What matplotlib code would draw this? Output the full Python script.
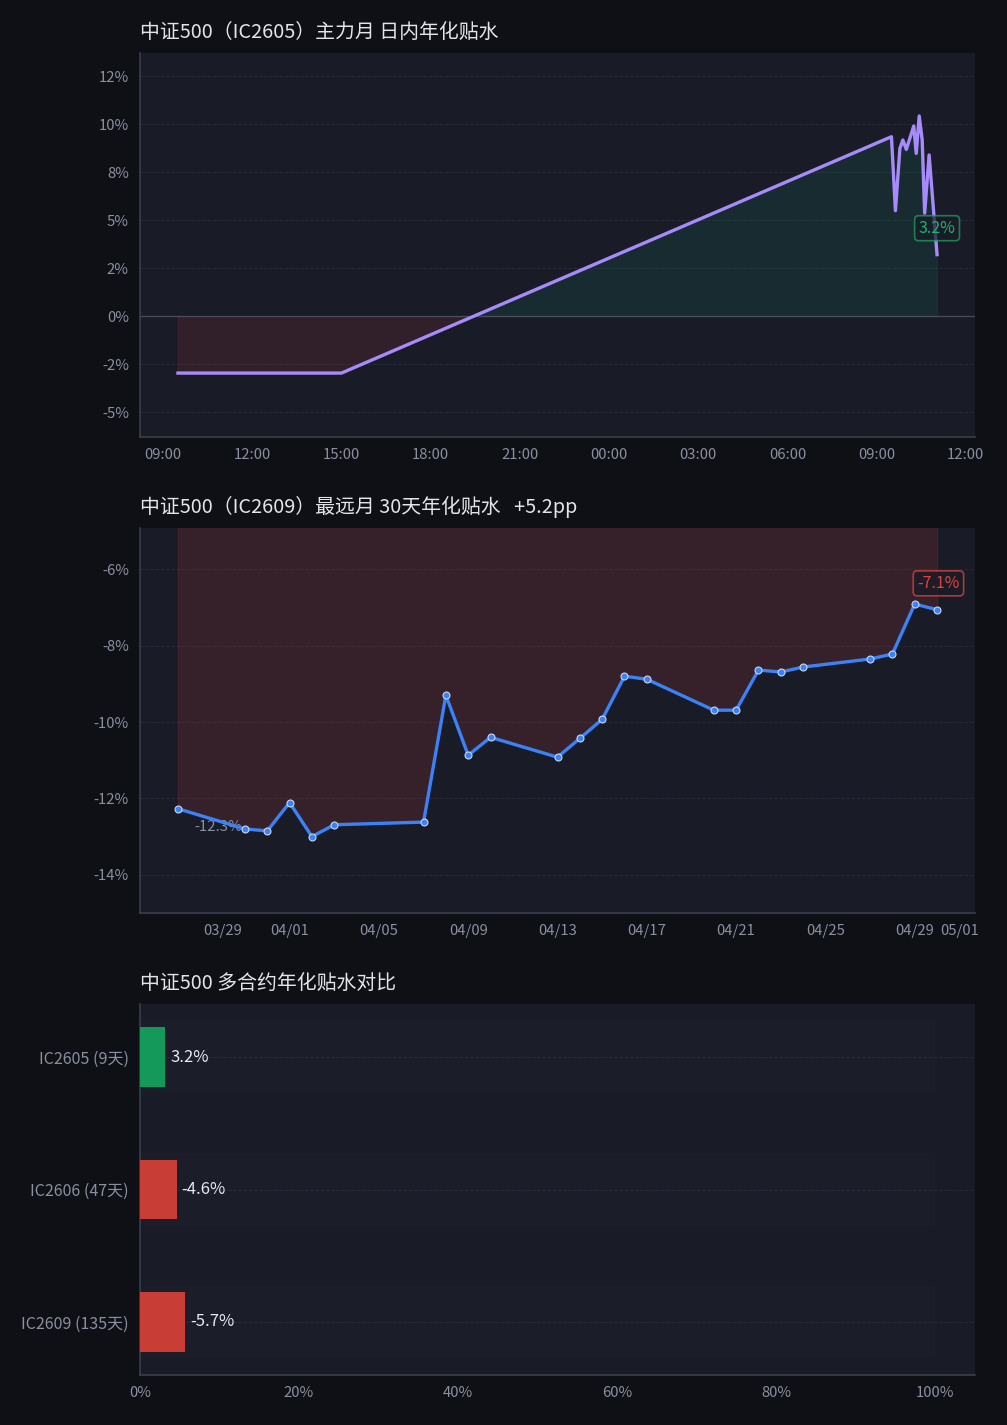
import matplotlib
matplotlib.use("Agg")
import matplotlib.pyplot as plt
import matplotlib.dates as mdates
from matplotlib.ticker import MultipleLocator, FuncFormatter
import numpy as np
import pandas as pd

plt.rcParams['font.family'] = ['Noto Sans CJK SC', 'DejaVu Sans']

# ---------------- data ----------------
intraday_times = ["2026-04-29 09:30", "2026-04-29 10:30", "2026-04-29 11:30", "2026-04-29 13:30",
                  "2026-04-29 14:30", "2026-04-29 15:00",
                  "2026-04-30 09:30", "2026-04-30 09:38", "2026-04-30 09:47", "2026-04-30 09:53",
                  "2026-04-30 10:00", "2026-04-30 10:15", "2026-04-30 10:20", "2026-04-30 10:26",
                  "2026-04-30 10:32", "2026-04-30 10:37", "2026-04-30 10:46", "2026-04-30 11:02"]
intraday_basis = [-2.97, -2.97, -2.97, -2.97, -2.97, -2.97,
                  9.34, 5.49, 8.73, 9.17, 8.68, 9.90, 8.47, 10.42, 9.17, 5.36, 8.39, 3.2]

far_dates = ["2026-03-27", "2026-03-30", "2026-03-31", "2026-04-01", "2026-04-02", "2026-04-03",
             "2026-04-07", "2026-04-08", "2026-04-09", "2026-04-10", "2026-04-13", "2026-04-14",
             "2026-04-15", "2026-04-16", "2026-04-17", "2026-04-20", "2026-04-21", "2026-04-22",
             "2026-04-23", "2026-04-24", "2026-04-27", "2026-04-28", "2026-04-29", "2026-04-30"]
far_basis = [-12.27, -12.80, -12.85, -12.11, -13.00, -12.69, -12.62, -9.30, -10.87, -10.40,
             -10.92, -10.43, -9.93, -8.80, -8.88, -9.69, -9.69, -8.64, -8.69, -8.56,
             -8.35, -8.22, -6.91, -7.06]

contracts = ["IC2605 (9天)", "IC2606 (47天)", "IC2609 (135天)"]
contract_basis = [3.2, -4.6, -5.7]

title1 = "中证500（IC2605）主力月 日内年化贴水"
title2 = "中证500（IC2609）最远月 30天年化贴水   +5.2pp"
title3 = "中证500 多合约年化贴水对比"

# ---------------- style ----------------
FIG_BG = '#0f1016'
AX_BG = '#191b27'
TICK_C = '#8b90a0'
TITLE_C = '#e2e4ea'
GRID_C = '#272a38'
SPINE_C = '#3a3d4b'
GREEN = '#15995a'
RED = '#e0443e'
BAR_RED = '#c83e37'
PURPLE = '#a78bfa'
BLUE = '#3b82f6'

fig = plt.figure(figsize=(10.07, 14.25), dpi=100, facecolor=FIG_BG)
L, R = 140 / 1007, 975 / 1007
def box(top, bottom):
    return [L, 1 - bottom / 1425, R - L, (bottom - top) / 1425]

ax1 = fig.add_axes(box(53, 437))
ax2 = fig.add_axes(box(528, 913))
ax3 = fig.add_axes(box(1004, 1375))

def style(ax, title):
    ax.set_facecolor(AX_BG)
    for s in ['top', 'right']:
        ax.spines[s].set_visible(False)
    for s in ['left', 'bottom']:
        ax.spines[s].set_color(SPINE_C)
        ax.spines[s].set_linewidth(1.2)
    ax.tick_params(colors=TICK_C, labelsize=10.7, length=0, pad=8)
    ax.set_title(title, loc='left', color=TITLE_C, fontsize=14.3, pad=11)

pct = FuncFormatter(lambda v, p: '{:.0f}%'.format(v))

# ---- chart 1 ----
t1 = pd.to_datetime(intraday_times)
v1 = np.array(intraday_basis)
style(ax1, title1)
ax1.fill_between(t1, v1, 0, where=v1 >= 0, interpolate=True, color='#10b981', alpha=0.10, lw=1)
ax1.fill_between(t1, v1, 0, where=v1 <= 0, interpolate=True, color=RED, alpha=0.12, lw=1)
ax1.axhline(0, color='#4a4d5a', lw=0.9, zorder=2)
ax1.plot(t1, v1, color=PURPLE, lw=2.4, zorder=4)
ax1.set_ylim(-6.3, 13.7)
ax1.yaxis.set_major_locator(MultipleLocator(2.5))
ax1.yaxis.set_major_formatter(pct)
ax1.xaxis.set_major_locator(mdates.HourLocator(byhour=range(0, 24, 3)))
ax1.xaxis.set_major_formatter(mdates.DateFormatter('%H:%M'))
ax1.grid(axis='y', color=GRID_C, ls='--', lw=0.7)
ax1.set_axisbelow(True)
ax1.annotate('{:.1f}%'.format(v1[-1]), xy=(t1[-1], v1[-1]), xytext=(0, 19),
             textcoords='offset points', ha='center', va='center', color='#1fb26c', fontsize=11.5,
             bbox=dict(boxstyle='round,pad=0.25', fc=AX_BG, ec='#1fa865', lw=1.2, alpha=0.7), zorder=6)

# ---- chart 2 ----
t2 = pd.to_datetime(far_dates)
v2 = np.array(far_basis)
style(ax2, title2)
ax2.fill_between(t2, v2, 0, color=RED, alpha=0.15, lw=1)
ax2.plot(t2, v2, color=BLUE, lw=2.4, marker='o', ms=5, mfc=BLUE, mec='#c9d7f2', mew=0.8, zorder=4)
ax2.set_ylim(-15.0, -4.92)
ax2.yaxis.set_major_locator(MultipleLocator(2))
ax2.yaxis.set_major_formatter(pct)
ax2.xaxis.set_major_locator(mdates.AutoDateLocator())
ax2.xaxis.set_major_formatter(mdates.DateFormatter('%m/%d'))
ax2.grid(axis='y', color=GRID_C, ls='--', lw=0.7)
ax2.set_axisbelow(True)
ax2.annotate('{:.1f}%'.format(v2[-1]), xy=(t2[-1], v2[-1]), xytext=(1, 19),
             textcoords='offset points', ha='center', va='center', color=RED, fontsize=11.5,
             bbox=dict(boxstyle='round,pad=0.25', fc=AX_BG, ec=RED, lw=1.2, alpha=0.75), zorder=6)
ax2.annotate('{:.1f}%'.format(v2[0]), xy=(t2[0], v2[0]), xytext=(29, -13),
             textcoords='offset points', ha='center', va='center', color=TICK_C, fontsize=10.7, zorder=3)

# ---- chart 3 ----
style(ax3, title3)
ypos = np.arange(len(contracts))
ax3.barh(ypos, [100] * len(contracts), height=0.55, color='white', alpha=0.012, zorder=1)
colors = [GREEN if v >= 0 else BAR_RED for v in contract_basis]
ax3.barh(ypos, np.abs(contract_basis), height=0.45, color=colors, zorder=3)
for y, v in zip(ypos, contract_basis):
    ax3.text(abs(v) + 0.6, y, '{:.1f}%'.format(v), va='center', ha='left', color='#e8e9ee', fontsize=12, zorder=4)
ax3.set_yticks(ypos)
ax3.set_yticklabels(contracts, fontsize=11.5)
ax3.set_ylim(2.4, -0.4)
ax3.set_xlim(0, 105)
ax3.xaxis.set_major_locator(MultipleLocator(20))
ax3.xaxis.set_major_formatter(pct)
ax3.grid(axis='y', color=GRID_C, ls='--', lw=0.7)
ax3.set_axisbelow(True)

fig.savefig('out.png', dpi=100, facecolor=FIG_BG)
